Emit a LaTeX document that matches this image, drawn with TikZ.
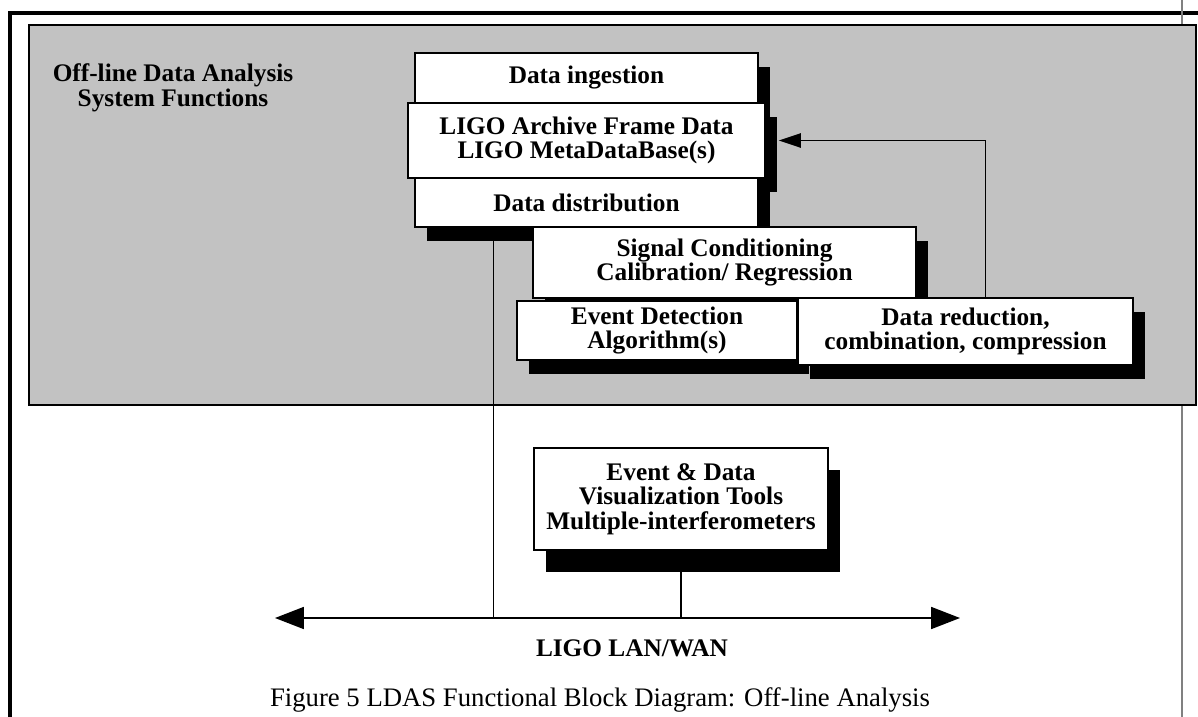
\documentclass[tikz,border=0pt]{standalone}
\usepackage{fontspec}
\setmainfont{Liberation Serif}
\usetikzlibrary{
    arrows.meta,
    positioning,
    calc,
    shadows
}
\newcommand\boxfont{\bfseries\fontsize{18}{17.5}\selectfont}
\newcommand\capfont{\mdseries\fontsize{19}{22}\selectfont}
\tikzset{
    % Colors
    panel color/.style={black!24},
    %
    % Boxes
    block/.style={draw, line width=1pt, fill=white, align=center, inner sep=0pt,
        drop shadow={shadow xshift=.3cm, shadow yshift=#1, opacity=1, fill=black}},
    block/.default=-.35cm,
    block size/.style 2 args={minimum width=#1*0.025cm, minimum height=#2*0.025cm},
    %
    % Lines and arrows
    arrow tip/.tip={Triangle[length=.55cm, width=.36cm]},
    big tip/.tip={Triangle[length=.72cm, width=.55cm]},
    arr/.style={->,>={arrow tip}},
    lan arr/.style={<->,>={big tip}},
    link/.style={line width=1pt},
    frame line/.style={line width=3.2pt}
}
\tikzstyle{every node}=[font=\boxfont]

\begin{document}
\begin{tikzpicture}[x=0.025cm, y=-0.025cm]
    \useasboundingbox (0,0) rectangle (1198,717);
    \draw[frame line] (1198,13) -| (10,717);
    \draw[gray, line width=.8pt] (1182,0) -- (1182,717);
    \filldraw[panel color, draw=black, line width=1.1pt] (29,25) rectangle (1196,405);

    \node[align=center] (title) at (173,88) {Off-line Data Analysis\\System Functions};

    \node[block, block size={343}{50}] (ingest) at (586.5,78) {Data ingestion};
    \node[block, block size={357}{75}] (archive) at (586.5,140.5) {LIGO Archive Frame Data\\LIGO MetaDataBase(s)};
    \node[block, block size={343}{49}] (distrib) at (586.5,202.5) {Data distribution};
    \node[block, block size={383}{71}] (signal) at (724.5,262.5) {Signal Conditioning\\Calibration/ Regression};
    \node[block, block size={280}{59}] (detect) at (657,330.5) {Event Detection\\Algorithm(s)};
    \node[block, block size={335}{67}] (reduce) at (965.5,331.5) {Data reduction,\\combination, compression};
    \node[block=-.55cm, block size={294}{102}] (vis) at (681,499) {Event \& Data\\Visualization Tools\\Multiple-interferometers};

    \coordinate (lanl) at (275,618);
    \coordinate (lanr) at (960,618);
    \draw[lan arr, link] (lanl) -- (lanr);
    \path ($(distrib.south west)!.23!(distrib.south east)$) coordinate (dtap);
    \draw[link] (dtap) -- (dtap |- lanl);
    \draw[link] (vis.south) -- (vis.south |- lanl);
    \draw[arr, link, shorten >=.33cm] ($(reduce.north west)!.56!(reduce.north east)$) |- (archive.east);

    \node (lanlabel) at (632,648) {LIGO LAN/WAN};
    \node[font=\capfont] (caption) at (600,700) {Figure 5 LDAS Functional Block Diagram: Off-line Analysis};
\end{tikzpicture}
\end{document}
